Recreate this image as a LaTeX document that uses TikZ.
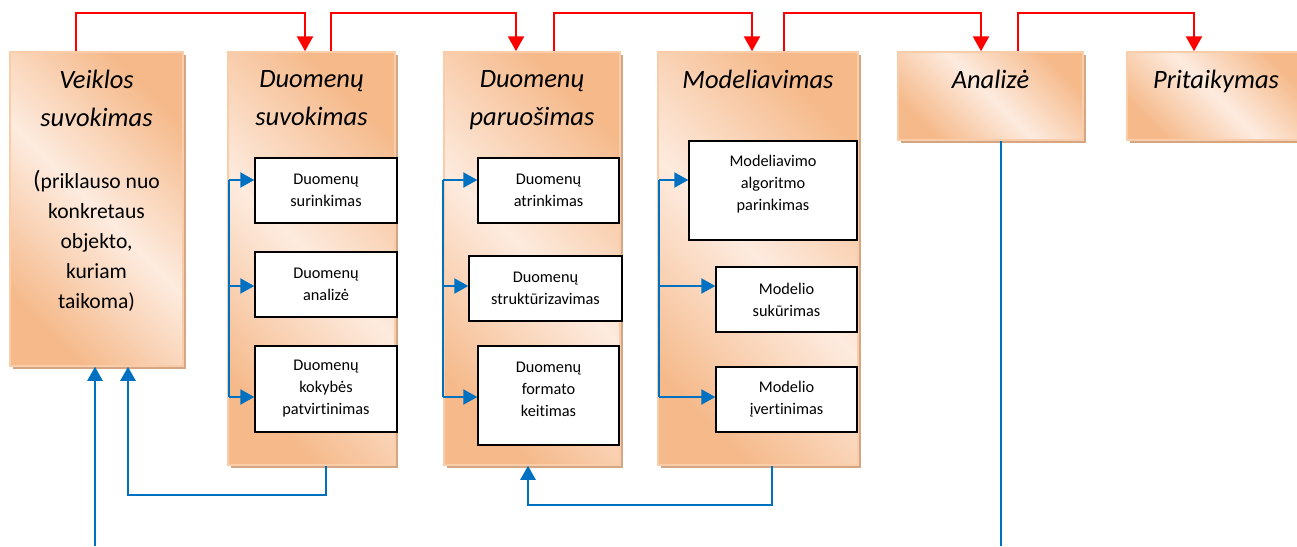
\documentclass[tikz,border=0pt]{standalone}
\usepackage{fontspec}
\setmainfont{Carlito}[Ligatures=CommonOff]
\usetikzlibrary{arrows.meta,shadows,calc}

\definecolor{boxorange}{HTML}{F5B98A}
\definecolor{boxlight}{HTML}{FDEBDF}
\definecolor{boxedge}{HTML}{F9CDAA}
\definecolor{boxshadow}{HTML}{D4A684}
\definecolor{flowred}{HTML}{FF0000}
\definecolor{flowblue}{HTML}{0070C0}

\begin{document}
\begin{tikzpicture}[x=1pt,y=-1pt,
  stage/.style={rectangle, draw=boxedge, line width=1.5pt, inner sep=0pt,
    top color=boxorange, bottom color=boxorange, middle color=boxlight,
    shading angle=-45,
    drop shadow={shadow xshift=3pt, shadow yshift=-3pt, fill=boxshadow, opacity=1}},
  subbox/.style={rectangle, draw=black, line width=1.4pt, fill=white,
    inner sep=0pt, align=center, font=\fontsize{16.3}{22}\selectfont},
  subtxt/.style={inner sep=0pt, align=center, font=\fontsize{16.3}{22}\selectfont},
  headtxt/.style={inner sep=0pt, align=center, anchor=north,
    font=\fontsize{26.5}{38}\selectfont\itshape},
  bodytxt/.style={inner sep=0pt, align=center, anchor=north,
    font=\fontsize{21.6}{30}\selectfont},
  redflow/.style={draw=flowred, line width=2.5pt,
    -{Triangle[length=15pt,width=16pt]}},
  blueline/.style={draw=flowblue, line width=2.2pt},
  bluearrow/.style={blueline, -{Triangle[length=14pt,width=15pt]}}]

\useasboundingbox (0,0) rectangle (1297,546);
\clip (0,0) rectangle (1297,546);

% main stages
\node[stage, minimum width=173pt, minimum height=314pt] (veik) at (96.5,209) {};
\node[stage, minimum width=167pt, minimum height=413pt] (dsuv) at (311.5,258.5) {};
\node[stage, minimum width=176pt, minimum height=413pt] (dpar) at (532,258.5) {};
\node[stage, minimum width=200pt, minimum height=413pt] (mod) at (758,258.5) {};
\node[stage, minimum width=185pt, minimum height=88pt] (anal) at (990.5,96) {};
\node[stage, minimum width=178pt, minimum height=88pt] (prit) at (1216,96) {};

% stage titles
\node[headtxt] (veik-h) at ($(veik.north)+(0,19)$) {Veiklos\\suvokimas};
\node[bodytxt] (veik-b) at ($(veik.north)+(0,119)$)
  {{\fontsize{25}{30}\selectfont(}priklauso nuo\\konkretaus\\objekto,\\kuriam\\taikoma)};
\node[headtxt] (dsuv-h) at ($(dsuv.north)+(0,19)$) {Duomenų\\suvokimas};
\node[headtxt] (dpar-h) at ($(dpar.north)+(0,19)$) {Duomenų\\paruošimas};
\node[headtxt] (mod-h) at ($(mod.north)+(0,19)$) {Modeliavimas};
\node[headtxt] (anal-h) at ($(anal.north)+(0,19)$) {Analizė};
\node[headtxt] (prit-h) at ($(prit.north)+(0,19)$) {Pritaikymas};

% sub-steps: data understanding
\node[subbox, minimum width=142pt, minimum height=65pt] (s11) at (326,190.5) {Duomenų\\surinkimas};
\node[subbox, minimum width=142pt, minimum height=65pt] (s12) at (326,284.5) {Duomenų\\analizė};
\node[subbox, minimum width=142pt, minimum height=86pt] (s13) at (326,389) {Duomenų\\kokybės\\patvirtinimas};

% sub-steps: data preparation
\node[subbox, minimum width=141pt, minimum height=65pt] (s21) at (548.5,190.5) {Duomenų\\atrinkimas};
\node[subbox, minimum width=153pt, minimum height=65pt] (s22) at (545.5,288.5) {Duomenų\\struktūrizavimas};
\node[subbox, minimum width=141pt, minimum height=99pt,
  label={[subtxt, yshift=6pt]center:Duomenų\\formato\\keitimas}] (s23) at (548.5,395.5) {};

% sub-steps: modelling
\node[subbox, minimum width=168pt, minimum height=99pt,
  label={[subtxt, yshift=6pt]center:Modeliavimo\\algoritmo\\parinkimas}] (s31) at (773,190.5) {};
\node[subbox, minimum width=141pt, minimum height=65pt] (s32) at (786.5,299.5) {Modelio\\sukūrimas};
\node[subbox, minimum width=141pt, minimum height=65pt] (s33) at (786.5,399.5) {Modelio\\įvertinimas};

% branching inside the stages
\coordinate (sp1a) at (229,180); \coordinate (sp1b) at (229,397);
\draw[blueline] (sp1a) -- (sp1b);
\draw[bluearrow] (sp1a) -- (sp1a -| s11.west);
\draw[bluearrow] (sp1a |- 0,286) -- (s12.west |- 0,286);
\draw[bluearrow] (sp1b) -- (sp1b -| s13.west);

\coordinate (sp2a) at (443,180); \coordinate (sp2b) at (443,397);
\draw[blueline] (sp2a) -- (sp2b);
\draw[bluearrow] (sp2a) -- (sp2a -| s21.west);
\draw[bluearrow] (sp2a |- 0,286) -- (s22.west |- 0,286);
\draw[bluearrow] (sp2b) -- (sp2b -| s23.west);

\coordinate (sp3a) at (659,180); \coordinate (sp3b) at (659,397);
\draw[blueline] (sp3a) -- (sp3b);
\draw[bluearrow] (sp3a) -- (sp3a -| s31.west);
\draw[bluearrow] (sp3a |- 0,286) -- (s32.west |- 0,286);
\draw[bluearrow] (sp3b) -- (sp3b -| s33.west);

% feedback loops
\draw[bluearrow] (dsuv.south -| 326,0) |- (128,495) -- (veik.south -| 128,0);
\draw[bluearrow] (mod.south -| 772,0) |- (528,505) -- (dpar.south -| 528,0);
\coordinate (retin) at (95,546);
\draw[bluearrow] (retin) -- (veik.south -| 95,0);
\coordinate (retout) at (1001,546);
\draw[blueline] (anal.south -| 1001,0) -- (retout);

% main process flow
\draw[redflow] (veik.north -| 76,0) |- (305,13) -- (dsuv.north -| 305,0);
\draw[redflow] (dsuv.north -| 331,0) |- (516,13) -- (dpar.north -| 516,0);
\draw[redflow] (dpar.north -| 554,0) |- (752,13) -- (mod.north -| 752,0);
\draw[redflow] (mod.north -| 784,0) |- (981,13) -- (anal.north -| 981,0);
\draw[redflow] (anal.north -| 1018,0) |- (1194,13) -- (prit.north -| 1194,0);
\end{tikzpicture}
\end{document}
